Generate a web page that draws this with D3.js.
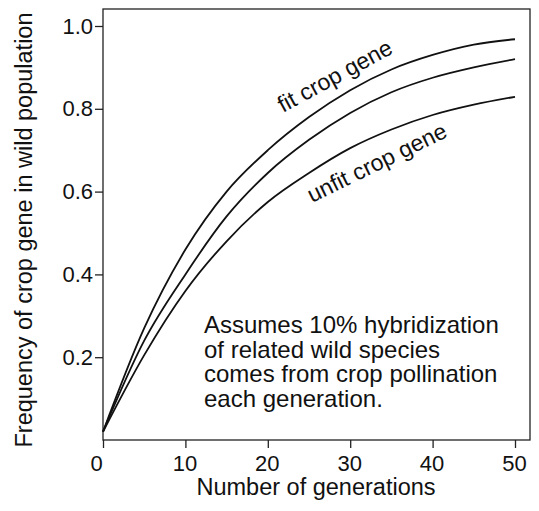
<!DOCTYPE html>
<html>
<head>
<meta charset="utf-8">
<script src="https://cdn.jsdelivr.net/npm/d3@7"></script>
<style>
  html, body { margin: 0; padding: 0; background: #fff; }
  svg text { font-family: "Liberation Sans", Arial, Helvetica, sans-serif; fill: #111; }
</style>
</head>
<body>
<svg id="chart" width="539" height="511"></svg>
<script>
// values
const generations = [0, 5, 10, 15, 20, 25, 30, 35, 40, 45, 50];
const fitGene     = [0.02, 0.27, 0.46, 0.60, 0.70, 0.78, 0.845, 0.895, 0.93, 0.955, 0.968];
const neutralGene = [0.02, 0.24, 0.40, 0.54, 0.645, 0.725, 0.79, 0.84, 0.875, 0.90, 0.92];
const unfitGene   = [0.02, 0.205, 0.36, 0.48, 0.575, 0.645, 0.705, 0.75, 0.785, 0.81, 0.829];
const xTicks = [0, 10, 20, 30, 40, 50];
const yTicks = [0.2, 0.4, 0.6, 0.8, 1.0];
const noteLines = [
    "Assumes 10% hybridization",
    "of related wild species",
    "comes from crop pollination",
    "each generation."
];

const svg = d3.select("#chart");
const box = {left: 103, top: 9, right: 530, bottom: 440};

const x = d3.scaleLinear().domain([0, 50]).range([103, 515]);
const y = d3.scaleLinear().domain([0, 1]).range([440, 26]);

// frame
svg.append("rect")
    .attr("x", box.left)
    .attr("y", box.top)
    .attr("width", box.right - box.left)
    .attr("height", box.bottom - box.top)
    .attr("fill", "none")
    .attr("stroke", "#222")
    .attr("stroke-width", 1.3);

// axes
const xAxis = d3.axisBottom(x).tickValues(xTicks).tickSize(8).tickPadding(7).tickFormat(d3.format("d"));
const gx = svg.append("g")
    .attr("transform", `translate(0, ${box.bottom})`)
    .call(xAxis);
gx.select(".domain").remove();
gx.selectAll("text").attr("font-size", 22).attr("fill", "#111")
    .attr("x", d => d === 0 ? -7 : -1);
gx.selectAll("line").attr("stroke", "#222").attr("stroke-width", 1.3);

const yAxis = d3.axisLeft(y).tickValues(yTicks).tickSize(8).tickPadding(2).tickFormat(d3.format(".1f"));
const gy = svg.append("g")
    .attr("transform", `translate(${box.left}, 0)`)
    .call(yAxis);
gy.select(".domain").remove();
gy.selectAll("text").attr("font-size", 22).attr("fill", "#111");
gy.selectAll("line").attr("stroke", "#222").attr("stroke-width", 1.3);

// axis titles
svg.append("text")
    .attr("x", 316)
    .attr("y", 495)
    .attr("text-anchor", "middle")
    .attr("font-size", 23.5)
    .text("Number of generations");

svg.append("text")
    .attr("transform", "translate(32, 230) rotate(-90)")
    .attr("text-anchor", "middle")
    .attr("font-size", 23.5)
    .text("Frequency of crop gene in wild population");

// curves
const line = d3.line()
    .x((d, i) => x(generations[i]))
    .y(d => y(d))
    .curve(d3.curveMonotoneX);

[fitGene, neutralGene, unfitGene].forEach(series => {
    svg.append("path")
        .attr("d", line(series))
        .attr("fill", "none")
        .attr("stroke", "#111")
        .attr("stroke-width", 1.8);
});

// curve labels
svg.append("text")
    .attr("transform", "translate(283, 113) rotate(-28.5)")
    .attr("font-size", 23)
    .text("fit crop gene");

svg.append("text")
    .attr("transform", "translate(312, 203) rotate(-26)")
    .attr("font-size", 23)
    .text("unfit crop gene");

// note
svg.append("g")
    .selectAll("text")
    .data(noteLines)
    .join("text")
    .attr("x", 204)
    .attr("y", (d, i) => 333 + i * 24.5)
    .attr("font-size", 24)
    .text(d => d);
</script>
</body>
</html>
